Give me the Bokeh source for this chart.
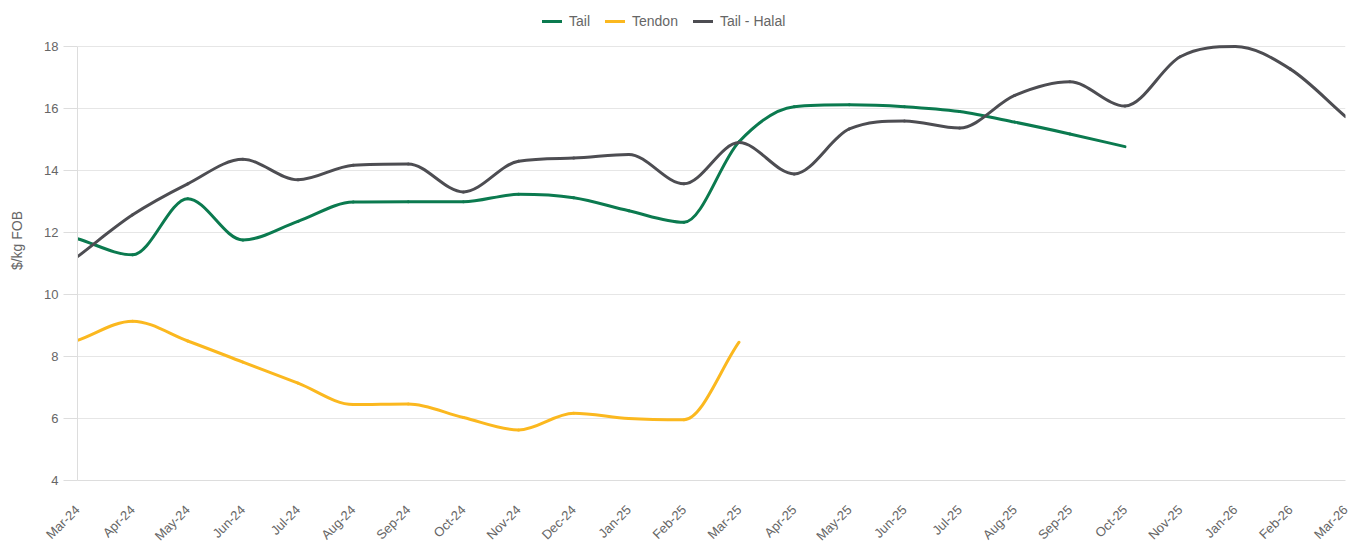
import math
from bokeh.plotting import figure
from bokeh.models import Range1d, FixedTicker, Legend, LegendItem
from bokeh.embed import file_html
from bokeh.resources import INLINE

months = ["Mar-24", "Apr-24", "May-24", "Jun-24", "Jul-24", "Aug-24", "Sep-24", "Oct-24",
          "Nov-24", "Dec-24", "Jan-25", "Feb-25", "Mar-25", "Apr-25", "May-25", "Jun-25",
          "Jul-25", "Aug-25", "Sep-25", "Oct-25", "Nov-25", "Jan-26", "Feb-26", "Mar-26"]

tail = [11.8, 11.28, 13.09, 11.76, 12.36, 12.98, 12.99, 12.99, 13.23, 13.12, 12.7, 12.33,
        14.93, 16.06, 16.12, 16.06, 15.9, 15.56, 15.18, 14.77]
tendon = [8.52, 9.14, 8.5, 7.82, 7.14, 6.45, 6.47, 6.03, 5.63, 6.17, 6.0, 5.96, 8.46]
tail_halal = [11.22, 12.57, 13.57, 14.36, 13.7, 14.17, 14.21, 13.31, 14.3, 14.4, 14.52, 13.57,
              14.9, 13.89, 15.34, 15.6, 15.37, 16.42, 16.86, 16.08, 17.67, 18.0, 17.27, 15.74]
y_ticks = [4, 6, 8, 10, 12, 14, 16, 18]

series = [("Tail", tail, "#0b7a4f"), ("Tendon", tendon, "#fbb81f"), ("Tail - Halal", tail_halal, "#4d4d52")]


def monotone_segments(ys):
    """Monotone cubic (Fritsch-Carlson) bezier segments for rendering the curve."""
    n = len(ys)
    xs = list(range(n))
    d = [(ys[i + 1] - ys[i]) for i in range(n - 1)]
    m = [0.0] * n
    m[0] = d[0]
    m[-1] = d[-1]
    for i in range(1, n - 1):
        if d[i - 1] == 0 or d[i] == 0 or (d[i - 1] > 0) != (d[i] > 0):
            m[i] = 0.0
        else:
            m[i] = (d[i - 1] + d[i]) / 2
    for i in range(n - 1):
        if d[i] == 0:
            m[i] = 0.0
            m[i + 1] = 0.0
            continue
        a = m[i] / d[i]
        b = m[i + 1] / d[i]
        t = a * a + b * b
        if t > 9:
            s = 3 / math.sqrt(t)
            m[i] = s * a * d[i]
            m[i + 1] = s * b * d[i]
    seg = dict(x0=[], y0=[], x1=[], y1=[], cx0=[], cy0=[], cx1=[], cy1=[])
    for i in range(n - 1):
        dx = (xs[i + 1] - xs[i]) / 3
        seg["x0"].append(xs[i]); seg["y0"].append(ys[i])
        seg["x1"].append(xs[i + 1]); seg["y1"].append(ys[i + 1])
        seg["cx0"].append(xs[i] + dx); seg["cy0"].append(ys[i] + m[i] * dx)
        seg["cx1"].append(xs[i + 1] - dx); seg["cy1"].append(ys[i + 1] - m[i + 1] * dx)
    return seg


# frame spans 4 .. 18 over 434 px; extra room above 18 holds the legend (46 px)
y_top = 18 + 46 * (18 - 4) / 434

p = figure(width=1364, height=552, output_backend="svg", toolbar_location=None,
           x_range=Range1d(0, len(months) - 1), y_range=Range1d(4, y_top),
           min_border_left=77, min_border_right=19, min_border_top=0, min_border_bottom=72)
p.outline_line_color = None
p.background_fill_color = "white"

items = []
for name, ys, col in series:
    s = monotone_segments(ys)
    r = p.bezier(x0=s["x0"], y0=s["y0"], x1=s["x1"], y1=s["y1"],
                 cx0=s["cx0"], cy0=s["cy0"], cx1=s["cx1"], cy1=s["cy1"],
                 line_color=col, line_width=3, line_cap="round")
    items.append(LegendItem(label=name, renderers=[r]))

legend = Legend(items=items, orientation="horizontal", location=(465, 451),
                label_text_font="Liberation Sans", label_text_font_size="14px",
                label_text_color="#666666", glyph_width=20, glyph_height=12,
                spacing=15, label_standoff=7, padding=2, margin=0,
                border_line_color=None, background_fill_alpha=0)
p.add_layout(legend, "center")

p.xaxis.ticker = FixedTicker(ticks=list(range(len(months))))
p.xaxis.major_label_overrides = {i: m for i, m in enumerate(months)}
p.xaxis.major_label_orientation = math.pi / 4
p.xaxis.major_tick_line_color = None
p.xaxis.minor_tick_line_color = None
p.xaxis.axis_line_color = "#dddddd"
p.xaxis.major_label_text_font = "Liberation Sans"
p.xaxis.major_label_text_font_size = "13px"
p.xaxis.major_label_text_color = "#666666"
p.xaxis.major_label_standoff = 21

p.yaxis.ticker = FixedTicker(ticks=y_ticks)
p.yaxis.bounds = (y_ticks[0], y_ticks[-1])
p.yaxis.axis_label = "$/kg FOB"
p.yaxis.axis_label_text_font = "Liberation Sans"
p.yaxis.axis_label_text_font_style = "normal"
p.yaxis.axis_label_text_font_size = "14px"
p.yaxis.axis_label_text_color = "#666666"
p.yaxis.axis_label_standoff = 16
p.yaxis.axis_line_color = "#dddddd"
p.yaxis.major_tick_line_color = "#dddddd"
p.yaxis.major_tick_out = 14
p.yaxis.major_tick_in = 0
p.yaxis.minor_tick_line_color = None
p.yaxis.major_label_text_font = "Liberation Sans"
p.yaxis.major_label_text_font_size = "13px"
p.yaxis.major_label_text_color = "#666666"
p.yaxis.major_label_standoff = 5

p.xgrid.grid_line_color = None
p.ygrid.grid_line_color = "#e6e6e6"

open("out.html", "w").write(file_html(p, INLINE))
